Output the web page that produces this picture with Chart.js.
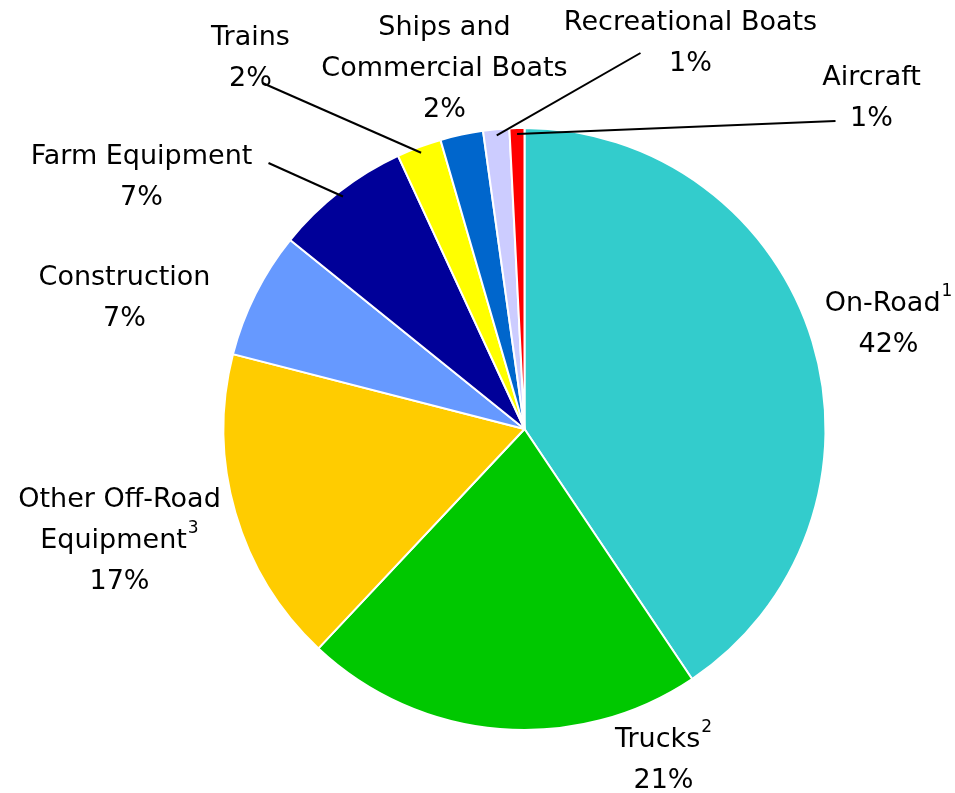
<!DOCTYPE html>
<html>
<head>
<meta charset="utf-8">
<script src="https://cdn.jsdelivr.net/npm/chart.js@4.4.0/dist/chart.umd.min.js"></script>
<style>
  html, body { margin: 0; padding: 0; background: #fff; }
  #wrap { width: 955px; height: 793px; position: relative; }
</style>
</head>
<body>
<div id="wrap"><canvas id="pieSources"></canvas></div>
<script>
// slice values (percent of total)
const categories = ['On-Road', 'Trucks', 'Other Off-Road\nEquipment', 'Construction', 'Farm Equipment',
                    'Trains', 'Ships and\nCommercial Boats', 'Recreational Boats', 'Aircraft'];
const footnotes = ['1', '2', '3', '', '', '', '', '', ''];
const shares = [40.6, 21.4, 17.0, 6.8, 7.3, 2.4, 2.3, 1.4, 0.8];
const shareLabels = ['42%', '21%', '17%', '7%', '7%', '2%', '2%', '1%', '1%'];
const colors = ['#33CCCC', '#00C800', '#FFCC00', '#6699FF', '#000099', '#FFFF00', '#0066CC', '#CCCCFF', '#FF0000'];

// label placement, offsets from pie centre (px); lead = start of leader line
const labelLayout = [
    { dx: 364, dy: -125 },
    { dx: 139, dy: 311 },
    { dx: -405, dy: 71 },
    { dx: -400, dy: -151 },
    { dx: -383, dy: -272, lead: [-256, -266] },
    { dx: -274, dy: -391, lead: [-262, -346] },
    { dx: -80, dy: -401 },
    { dx: 166, dy: -406, lead: [116, -376] },
    { dx: 347, dy: -351, lead: [311, -308] }
];

const FONT = 'DejaVu Sans, Verdana, sans-serif';
const LINE_H = 41;

const pieLabels = {
    id: 'pieLabels',
    afterDatasetsDraw(chart) {
        const ctx = chart.ctx;
        const arcs = chart.getDatasetMeta(0).data;
        ctx.save();
        ctx.fillStyle = '#000';
        ctx.strokeStyle = '#000';
        ctx.lineWidth = 2;
        ctx.textBaseline = 'middle';
        arcs.forEach((arc, i) => {
            const cx = arc.x, cy = arc.y;
            const lay = labelLayout[i];
            if (lay.lead) {
                const mid = (arc.startAngle + arc.endAngle) / 2;
                const r = arc.outerRadius * 0.98;
                ctx.beginPath();
                ctx.moveTo(cx + lay.lead[0], cy + lay.lead[1]);
                ctx.lineTo(cx + Math.cos(mid) * r, cy + Math.sin(mid) * r);
                ctx.stroke();
            }
            const lines = categories[i].split('\n').concat([shareLabels[i]]);
            const x = cx + lay.dx;
            lines.forEach((txt, k) => {
                const y = cy + lay.dy + k * LINE_H;
                const sup = (k === lines.length - 2) ? footnotes[i] : '';
                ctx.font = '27px ' + FONT;
                const w = ctx.measureText(txt).width;
                ctx.font = '17px ' + FONT;
                const sw = sup ? ctx.measureText(sup).width + 1 : 0;
                const left = x - (w + sw) / 2;
                ctx.textAlign = 'left';
                ctx.font = '27px ' + FONT;
                ctx.fillText(txt, left, y);
                if (sup) {
                    ctx.font = '17px ' + FONT;
                    ctx.fillText(sup, left + w + 1, y - 12);
                }
            });
        });
        ctx.restore();
    }
};

const chart = new Chart(document.getElementById('pieSources'), {
    type: 'pie',
    data: {
        labels: categories,
        datasets: [{
            data: shares,
            backgroundColor: colors,
            borderColor: '#ffffff',
            borderWidth: 2
        }]
    },
    options: {
        responsive: true,
        maintainAspectRatio: false,
        animation: false,
        layout: { padding: { top: 127, bottom: 62, left: 222, right: 128 } },
        plugins: {
            legend: { display: false },
            tooltip: { enabled: false }
        }
    },
    plugins: [pieLabels]
});
</script>
</body>
</html>
